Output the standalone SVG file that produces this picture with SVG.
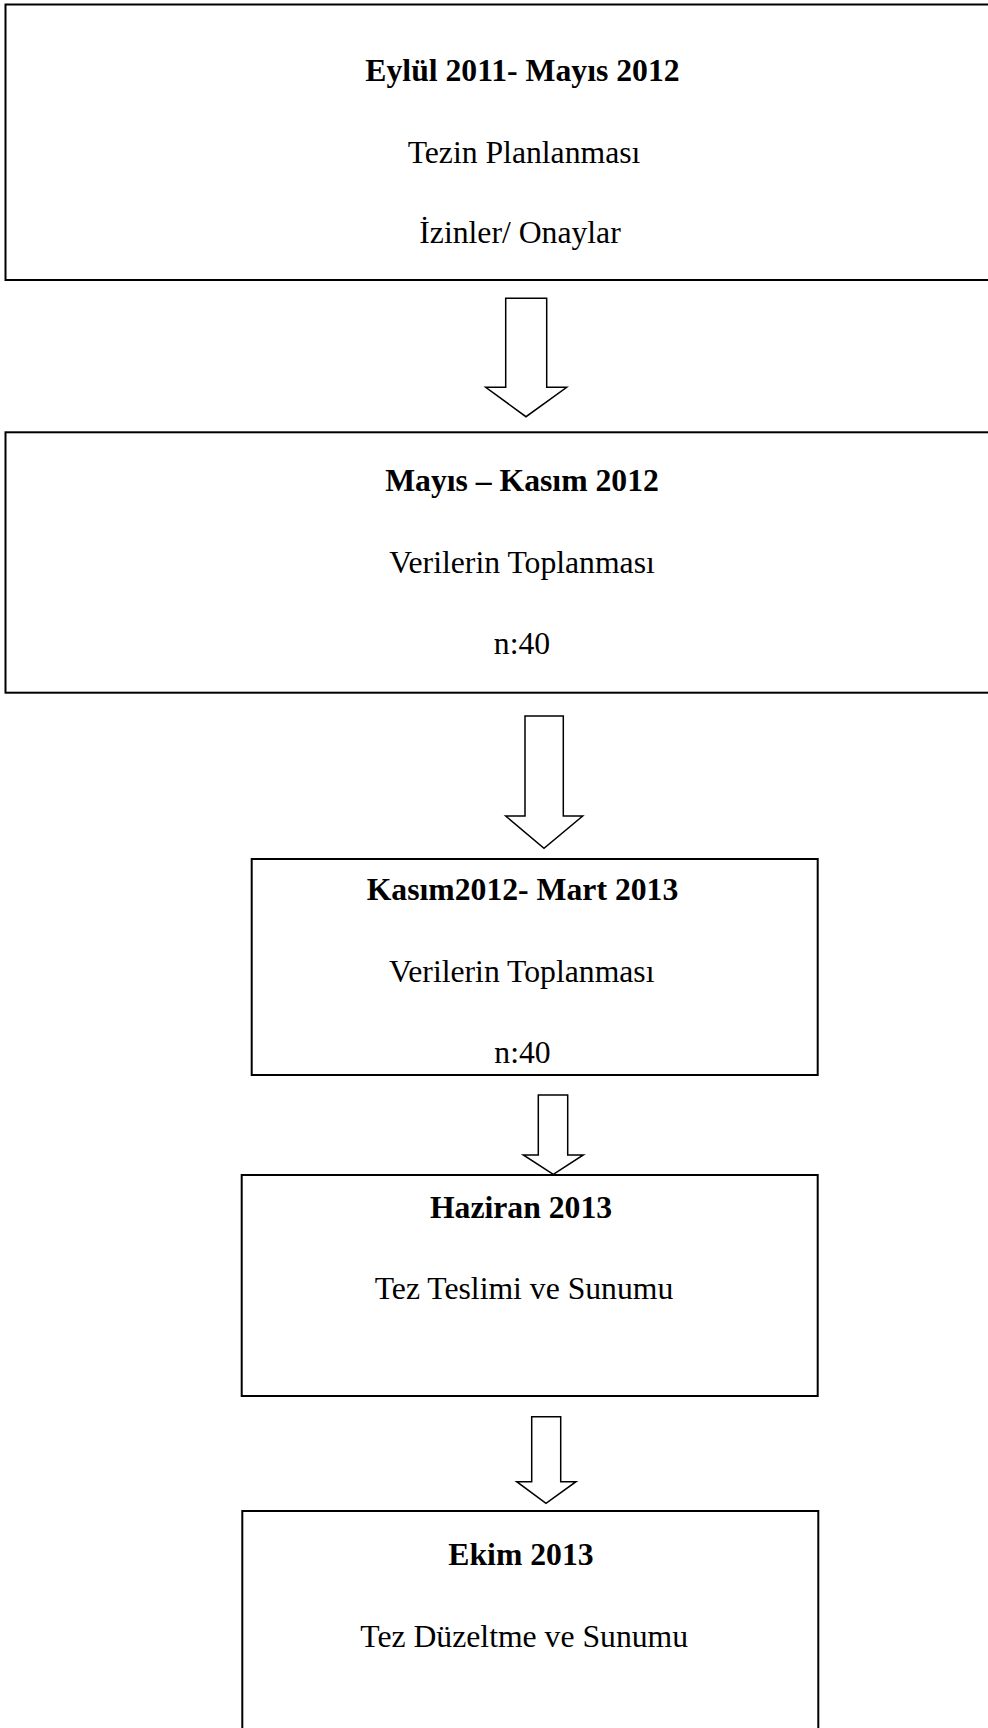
<svg xmlns="http://www.w3.org/2000/svg" width="988" height="1728" viewBox="0 0 988 1728">
<style>
.box{fill:#fff;stroke:#000;stroke-width:2}
.arr{fill:#fff;stroke:#000;stroke-width:1.5;stroke-linejoin:miter}
.t{font-family:"Liberation Serif","Times New Roman",serif;font-size:31.7px;fill:#000;text-anchor:middle}
.b{font-weight:bold}
</style>
<rect width="988" height="1728" fill="#fff"/>
<g id="connectors">
<polygon class="arr" points="505.7,298.3 546.7,298.3 546.7,387.3 566.7,387.3 526,416.7 485.7,387.3 505.7,387.3"/>
<polygon class="arr" points="525,716 563.3,716 563.3,816 582.7,816 544,848.3 505.7,816 525,816"/>
<polygon class="arr" points="538.3,1095 567.7,1095 567.7,1155 583.3,1155 553.3,1174.3 523.3,1155 538.3,1155"/>
<polygon class="arr" points="531.7,1416.7 560.7,1416.7 560.7,1481.7 576,1481.7 546,1503.3 516.7,1481.7 531.7,1481.7"/>
</g>
<g id="node1">
<rect class="box" x="5.5" y="4.5" width="1040" height="275.5"/>
<text class="t b" x="522.5" y="81">Eylül 2011- Mayıs 2012</text>
<text class="t" x="524" y="163">Tezin Planlanması</text>
<text class="t" x="520" y="243">İzinler/ Onaylar</text>
</g>
<g id="node2">
<rect class="box" x="5.5" y="432.3" width="1040" height="260.4"/>
<text class="t b" x="522" y="491">Mayıs – Kasım 2012</text>
<text class="t" x="522" y="572.7">Verilerin Toplanması</text>
<text class="t" x="522" y="654">n:40</text>
</g>
<g id="node3">
<rect class="box" x="251.7" y="859" width="566" height="216"/>
<text class="t b" x="522.5" y="900">Kasım2012- Mart 2013</text>
<text class="t" x="521.7" y="982.3">Verilerin Toplanması</text>
<text class="t" x="522.5" y="1063.3">n:40</text>
</g>
<g id="node4">
<rect class="box" x="241.7" y="1175" width="576" height="221"/>
<text class="t b" x="521" y="1217.7">Haziran 2013</text>
<text class="t" x="524" y="1299.3">Tez Teslimi ve Sunumu</text>
</g>
<g id="node5">
<rect class="box" x="242.3" y="1511" width="576" height="240"/>
<text class="t b" x="521" y="1565">Ekim 2013</text>
<text class="t" x="524.2" y="1646.7">Tez Düzeltme ve Sunumu</text>
</g>
</svg>
